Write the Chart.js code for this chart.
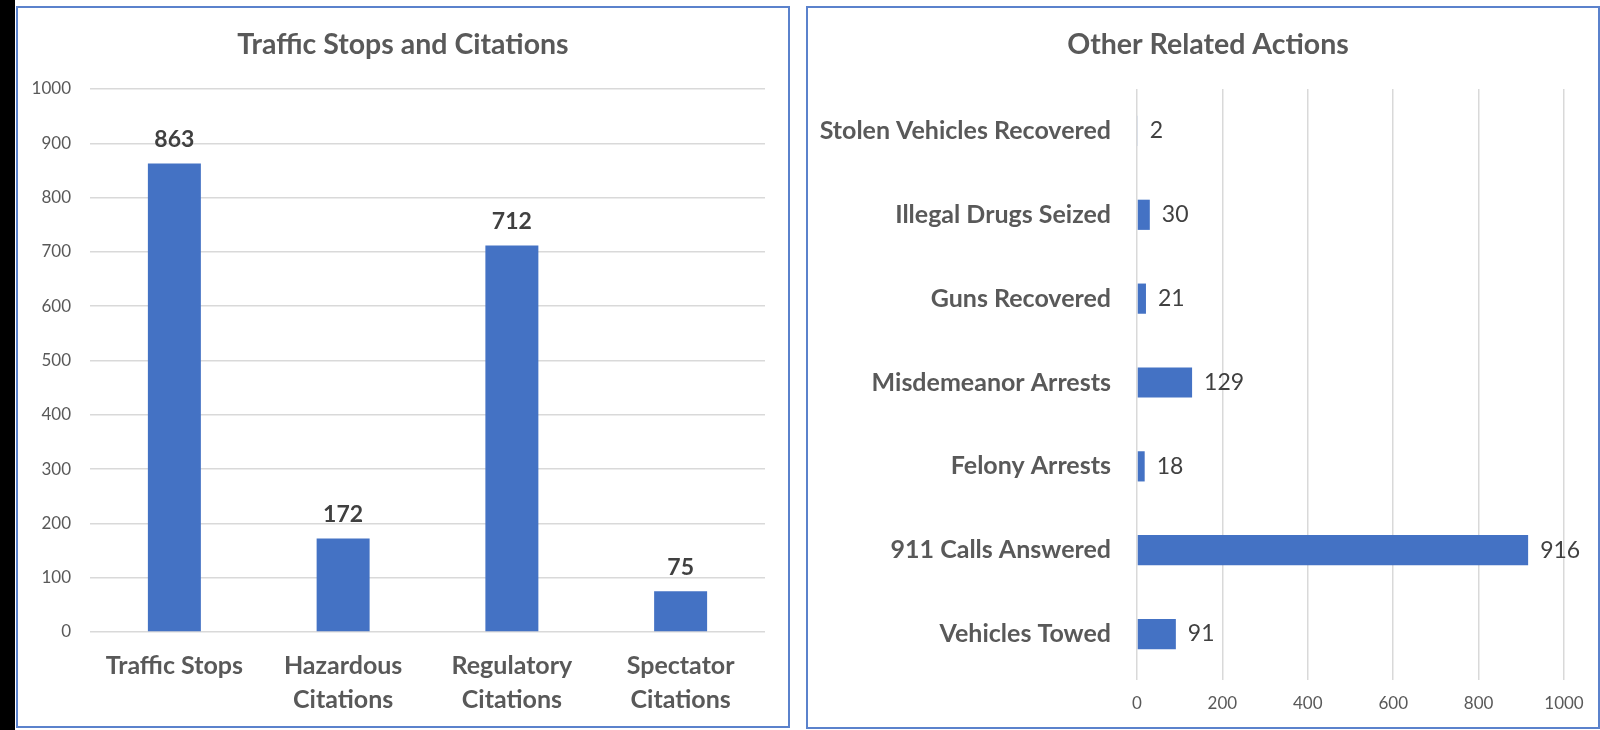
<!DOCTYPE html>
<html>
<head>
<meta charset="utf-8">
<script src="https://cdn.jsdelivr.net/npm/chart.js@4.4.1/dist/chart.umd.min.js"></script>
<style>
  html, body { margin: 0; padding: 0; background: #fff; }
  body { width: 1600px; height: 730px; position: relative; overflow: hidden; }
  .strip { position: absolute; left: 0; top: 0; width: 15px; height: 730px; background: #000; }
  .panel { position: absolute; box-sizing: border-box; border: 2px solid #5b82cc; }
  canvas { position: absolute; }
</style>
</head>
<body>
<div class="strip"></div>
<div class="panel" style="left:16px;top:6px;width:774px;height:722px;"></div>
<div class="panel" style="left:806px;top:6px;width:794px;height:723px;"></div>
<canvas id="stopsChart" width="770" height="718" style="left:18px;top:8px;"></canvas>
<canvas id="actionsChart" width="790" height="718" style="left:808px;top:8px;"></canvas>
<script>
// Traffic stops panel
const stopCategories = ['Traffic Stops', ['Hazardous', 'Citations'], ['Regulatory', 'Citations'], ['Spectator', 'Citations']];
const stopValues = [863, 172, 712, 75];
const stopTicks = [0, 100, 200, 300, 400, 500, 600, 700, 800, 900, 1000];

// Other actions panel
const actionCategories = ['Stolen Vehicles Recovered', 'Illegal Drugs Seized', 'Guns Recovered', 'Misdemeanor Arrests', 'Felony Arrests', '911 Calls Answered', 'Vehicles Towed'];
const actionValues = [2, 30, 21, 129, 18, 916, 91];
const actionTicks = [0, 200, 400, 600, 800, 1000];

const FONT = "Lato, 'Open Sans', sans-serif";
const BLUE = '#4472C4';
const GRID = '#d9d9d9';
const TEXT = '#595959';

// value labels above / beside the bars
const valueLabels = {
  id: 'valueLabels',
  afterDatasetsDraw(chart, args, opts) {
    const ctx = chart.ctx;
    const meta = chart.getDatasetMeta(0);
    const horizontal = chart.options.indexAxis === 'y';
    ctx.save();
    ctx.font = opts.font;
    ctx.fillStyle = opts.color;
    ctx.textBaseline = 'middle';
    meta.data.forEach((bar, i) => {
      const v = chart.data.datasets[0].data[i];
      if (horizontal) {
        ctx.textAlign = 'left';
        ctx.fillText(String(v), bar.x + opts.offset, bar.y);
      } else {
        ctx.textAlign = 'center';
        ctx.fillText(String(v), bar.x, bar.y - opts.offset);
      }
    });
    ctx.restore();
  }
};

// panel heading, centred where the original sits (not over the plot area)
const panelTitle = {
  id: 'panelTitle',
  afterDraw(chart, args, opts) {
    const ctx = chart.ctx;
    ctx.save();
    ctx.font = opts.font;
    ctx.fillStyle = opts.color;
    ctx.textAlign = 'center';
    ctx.textBaseline = 'middle';
    ctx.fillText(opts.text, opts.x, opts.y);
    ctx.restore();
  }
};

// plain numbers, no thousands separator
const plainTicks = (list) => (scale) => {
  scale.ticks = list.map(v => ({ value: v }));
};

new Chart(document.getElementById('stopsChart'), {
  type: 'bar',
  data: {
    labels: stopCategories,
    datasets: [{
      data: stopValues,
      backgroundColor: BLUE,
      barPercentage: 0.314,
      categoryPercentage: 1
    }]
  },
  plugins: [valueLabels, panelTitle],
  options: {
    responsive: false,
    animation: false,
    layout: { padding: { left: 0, right: 23, top: 81, bottom: 0 } },
    plugins: {
      legend: { display: false },
      tooltip: { enabled: false },
      title: { display: false },
      panelTitle: { text: 'Traffic Stops and Citations', x: 385, y: 37, color: TEXT, font: 'bold 28.5px ' + FONT },
      valueLabels: { font: 'bold 23px ' + FONT, color: '#404040', offset: 24 }
    },
    scales: {
      x: {
        grid: { display: false },
        border: { display: false },
        ticks: {
          color: TEXT,
          padding: 9,
          maxRotation: 0,
          autoSkip: false,
          font: { family: FONT, size: 25, weight: 'bold', lineHeight: 1.35 }
        },
        afterFit: (s) => { s.height = 94; }
      },
      y: {
        min: 0,
        max: 1000,
        grid: { color: GRID, lineWidth: 1.5, drawTicks: false },
        border: { display: false },
        afterBuildTicks: plainTicks(stopTicks),
        ticks: { color: TEXT, padding: 19, font: { family: FONT, size: 17 }, callback: (v) => String(v) },
        afterFit: (s) => { s.width = 72; }
      }
    }
  }
});

new Chart(document.getElementById('actionsChart'), {
  type: 'bar',
  data: {
    labels: actionCategories,
    datasets: [{
      data: actionValues,
      backgroundColor: BLUE,
      barPercentage: 0.36,
      categoryPercentage: 1
    }]
  },
  plugins: [valueLabels, panelTitle],
  options: {
    indexAxis: 'y',
    responsive: false,
    animation: false,
    layout: { padding: { left: 0, right: 34, top: 81, bottom: 0 } },
    plugins: {
      legend: { display: false },
      tooltip: { enabled: false },
      title: { display: false },
      panelTitle: { text: 'Other Related Actions', x: 400, y: 37, color: TEXT, font: 'bold 28.5px ' + FONT },
      valueLabels: { font: '23px ' + FONT, color: '#404040', offset: 12 }
    },
    scales: {
      x: {
        min: 0,
        max: 1000,
        grid: { color: GRID, lineWidth: 1.5, tickLength: 4 },
        border: { display: false },
        afterBuildTicks: plainTicks(actionTicks),
        ticks: { color: TEXT, padding: 13, font: { family: FONT, size: 17 }, callback: (v) => String(v) },
        afterFit: (s) => { s.height = 50; }
      },
      y: {
        grid: { display: false },
        border: { display: false },
        ticks: {
          color: TEXT,
          padding: 18,
          autoSkip: false,
          font: { family: FONT, size: 25, weight: 'bold' }
        },
        afterFit: (s) => { s.width = 329; }
      }
    }
  }
});
</script>
</body>
</html>
